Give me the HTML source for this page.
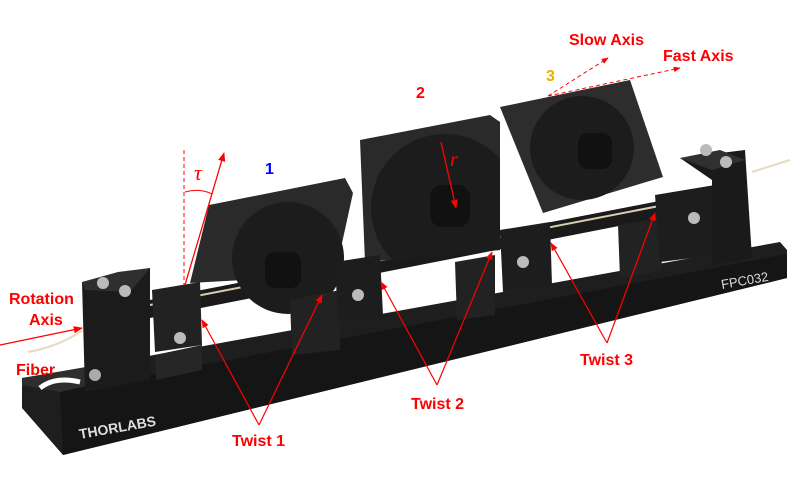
<!DOCTYPE html>
<html><head><meta charset="utf-8"><style>
html,body{margin:0;padding:0;background:#fff;}
svg{display:block;}
.l{font-family:"Liberation Sans Narrow","Liberation Sans",sans-serif;font-size:16px;font-weight:bold;fill:#f00;}
</style></head><body>
<svg width="800" height="496" viewBox="0 0 800 496" xmlns="http://www.w3.org/2000/svg">
<defs>
<marker id="a" viewBox="0 0 10 10" refX="9" refY="5" markerWidth="7" markerHeight="7" orient="auto"><path d="M0,1 L10,5 L0,9 z" fill="#f00"/></marker>
<clipPath id="c2"><polygon points="360,140 490,115 500,122 500,250 365,262"/></clipPath>
</defs>
<!-- base -->
<polygon points="22,378 60,372 780,242 787,250 787,278 63,455 22,408" fill="#1e1e1e"/>
<polygon points="22,378 150,356 150,370 60,392 22,385" fill="#2e2e2e"/>
<polygon points="60,392 787,254 787,278 63,455" fill="#151515"/>
<path d="M40,388 q15,-12 40,-6" stroke="#fff" stroke-width="5" fill="none"/>
<!-- rail -->
<polygon points="150,300 690,195 690,212 150,318" fill="#1a1a1a"/>
<line x1="150" y1="305" x2="690" y2="200" stroke="#d8cfb0" stroke-width="2"/>
<!-- paddle 1 -->
<polygon points="209,205 345,178 353,193 335,275 190,283" fill="#2a2a2a"/>
<circle cx="288" cy="258" r="56" fill="#1c1c1c"/>
<rect x="265" y="252" width="36" height="36" rx="10" fill="#111"/>
<!-- paddle 2 -->
<polygon points="360,140 490,115 500,122 500,250 365,262" fill="#2a2a2a"/>
<circle cx="445" cy="208" r="74" fill="#1c1c1c" clip-path="url(#c2)"/>
<rect x="430" y="185" width="40" height="42" rx="12" fill="#111"/>
<!-- paddle 3 -->
<polygon points="500,107 630,80 663,177 543,213" fill="#2d2d2d"/>
<circle cx="582" cy="148" r="52" fill="#1c1c1c"/>
<rect x="578" y="133" width="34" height="36" rx="10" fill="#111"/>
<!-- blocks -->
<polygon points="82,282 150,268 150,380 85,392" fill="#1b1b1b"/>
<polygon points="82,282 118,272 150,268 130,292 85,290" fill="#2f2f2f"/>
<polygon points="152,290 200,282 202,345 155,352" fill="#222"/>
<polygon points="155,355 202,345 202,370 156,380" fill="#262626"/>
<polygon points="290,300 340,290 340,350 292,355" fill="#222"/>
<polygon points="335,262 380,255 383,315 338,322" fill="#1d1d1d"/>
<polygon points="455,262 495,255 495,315 457,320" fill="#222"/>
<polygon points="500,230 550,222 552,285 503,292" fill="#1d1d1d"/>
<polygon points="618,225 660,218 662,270 620,278" fill="#222"/>
<polygon points="655,195 715,185 717,255 660,262" fill="#1d1d1d"/>
<polygon points="680,158 745,150 752,258 712,265 712,180" fill="#1a1a1a"/>
<polygon points="680,158 720,150 745,160 712,170" fill="#303030"/>
<circle cx="125" cy="291" r="6" fill="#bbb"/><circle cx="103" cy="283" r="6" fill="#bbb"/>
<circle cx="95" cy="375" r="6" fill="#aaa"/><circle cx="180" cy="338" r="6" fill="#bbb"/>
<circle cx="358" cy="295" r="6" fill="#bbb"/><circle cx="523" cy="262" r="6" fill="#bbb"/>
<circle cx="694" cy="218" r="6" fill="#bbb"/><circle cx="706" cy="150" r="6" fill="#bbb"/><circle cx="726" cy="162" r="6" fill="#bbb"/>
<!-- fiber -->
<path d="M28,352 q30,-5 55,-22" stroke="#e6dcc0" stroke-width="2" fill="none"/>
<line x1="752" y1="172" x2="790" y2="160" stroke="#e6dcc0" stroke-width="2"/>
<text x="80" y="439" font-family="Liberation Sans" font-weight="bold" font-size="14" fill="#ddd" transform="rotate(-10 80 439)">THORLABS</text>
<text x="722" y="289" font-family="Liberation Sans" font-size="13" fill="#ddd" transform="rotate(-10 722 289)">FPC032</text>
<!-- annotations -->
<line x1="184" y1="150" x2="184" y2="285" stroke="#f00" stroke-dasharray="4,3"/>
<line x1="185" y1="285" x2="224" y2="153" stroke="#f00" stroke-width="1.3" marker-end="url(#a)"/>
<path d="M185,192 q15,-4 27,2" stroke="#f00" fill="none"/>
<line x1="441" y1="142" x2="456" y2="208" stroke="#f00" stroke-width="1.3" marker-end="url(#a)"/>
<line x1="548" y1="96" x2="608" y2="58" stroke="#f00" stroke-dasharray="4,3" marker-end="url(#a)"/>
<line x1="548" y1="96" x2="680" y2="68" stroke="#f00" stroke-dasharray="4,3" marker-end="url(#a)"/>
<line x1="0" y1="345" x2="82" y2="328" stroke="#f00" stroke-width="1.3" marker-end="url(#a)"/>
<g stroke="#f00" stroke-width="1.2" fill="none">
<line x1="259" y1="425" x2="202" y2="320" marker-end="url(#a)"/>
<line x1="259" y1="425" x2="322" y2="295" marker-end="url(#a)"/>
<line x1="437" y1="385" x2="381" y2="282" marker-end="url(#a)"/>
<line x1="437" y1="385" x2="492" y2="252" marker-end="url(#a)"/>
<line x1="607" y1="343" x2="551" y2="243" marker-end="url(#a)"/>
<line x1="607" y1="343" x2="655" y2="213" marker-end="url(#a)"/>
</g>
<text class="l" x="9" y="304">Rotation</text>
<text class="l" x="29" y="325">Axis</text>
<text class="l" x="16" y="375">Fiber</text>
<text class="l" x="232" y="446">Twist 1</text>
<text class="l" x="411" y="409">Twist 2</text>
<text class="l" x="580" y="365">Twist 3</text>
<text class="l" x="569" y="45">Slow Axis</text>
<text class="l" x="663" y="61">Fast Axis</text>
<text class="l" x="265" y="174" style="fill:#00f">1</text>
<text class="l" x="416" y="98">2</text>
<text class="l" x="546" y="81" style="fill:#e6b000">3</text>
<text x="194" y="180" font-family="Liberation Serif" font-style="italic" font-size="22" fill="#f00">τ</text>
<text x="450" y="166" font-family="Liberation Serif" font-style="italic" font-size="20" fill="#f00">r</text>
</svg>
</body></html>
